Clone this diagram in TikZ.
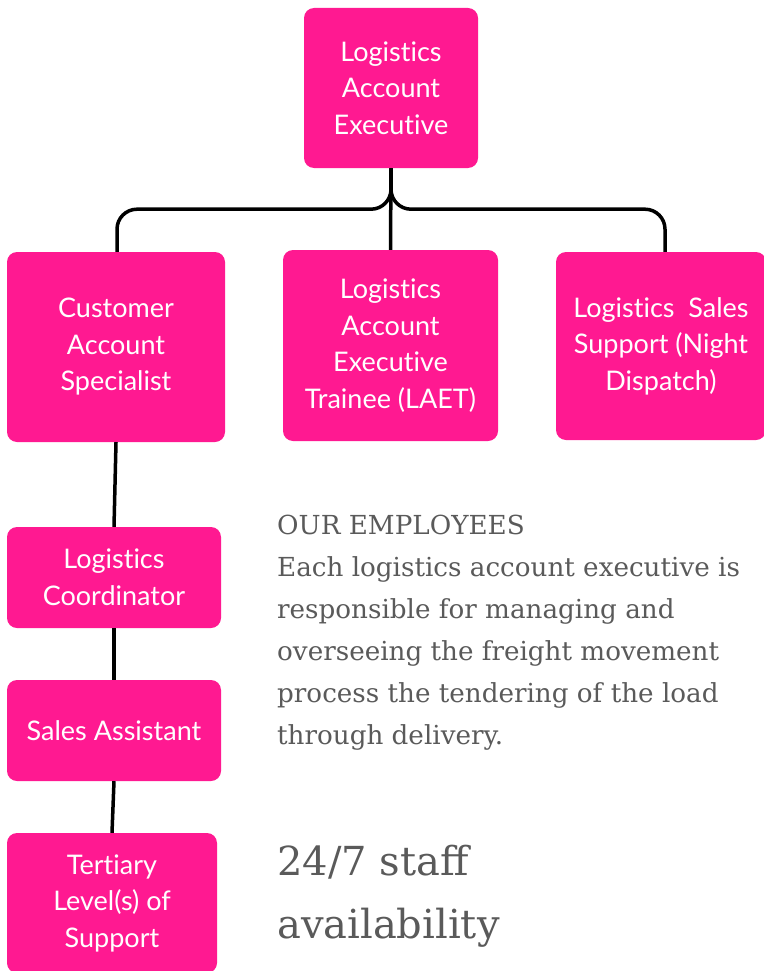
\documentclass[tikz,border=0pt]{standalone}
\usepackage{fontspec}
\setmainfont{Lato}[Ligatures={NoCommon}]
\newfontfamily\notefont{DejaVu Serif}
\usetikzlibrary{positioning}
\definecolor{boxpink}{RGB}{255,25,145}
\definecolor{notegray}{RGB}{90,90,90}

\begin{document}
\begin{tikzpicture}[x=1pt,y=-1pt,
  every node/.style={inner sep=0pt},
  role/.style={rectangle,rounded corners=10pt,fill=boxpink,text=white,align=center,font=\fontsize{27}{36.5}\selectfont},
  link/.style={line width=3.5pt,black,rounded corners=20pt},
  note/.style={anchor=north west,align=left,text=notegray}]
\useasboundingbox (0,0) rectangle (763,971);
\node[role,minimum width=174pt,minimum height=160pt] (lae) at (391,88) {Logistics\\Account\\Executive};
\node[role,minimum width=218pt,minimum height=190pt] (cas) at (116,347) {Customer\\Account\\Specialist};
\node[role,minimum width=215pt,minimum height=191pt] (laet) at (390.5,345.5) {Logistics\\Account\\Executive\\Trainee (LAET)};
\node[role,minimum width=210pt,minimum height=188pt] (night) at (661,346) {Logistics~ Sales\\Support (Night\\Dispatch)};
\node[role,minimum width=214pt,minimum height=101pt] (coord) at (114,577.5) {Logistics\\Coordinator};
\node[role,minimum width=214pt,minimum height=101pt] (sales) at (114,730.5) {Sales Assistant};
\node[role,minimum width=210pt,minimum height=140pt] (tert) at (112,903) {Tertiary\\Level(s) of\\Support};
\coordinate (fork) at ([yshift=-41pt]lae.south);
\draw[link] (lae.south) -- (laet.north);
\draw[link] (lae.south) -- (fork) -| ([xshift=1pt]cas.north);
\draw[link] (lae.south) -- (fork) -| ([xshift=4pt]night.north);
\draw[link] (cas.south) -- (coord.north);
\draw[link] (coord.south) -- (sales.north);
\draw[link] (sales.south) -- (tert.north);
\node[note,font=\notefont\fontsize{26.2}{42}\selectfont] (staff) at (277,515) {OUR EMPLOYEES\\Each logistics account executive is\\responsible for managing and\\overseeing the freight movement\\process the tendering of the load\\through delivery.};
\node[note,font=\notefont\fontsize{40}{63}\selectfont] (avail) at (277,845) {24/7 staff\\availability};
\end{tikzpicture}
\end{document}
